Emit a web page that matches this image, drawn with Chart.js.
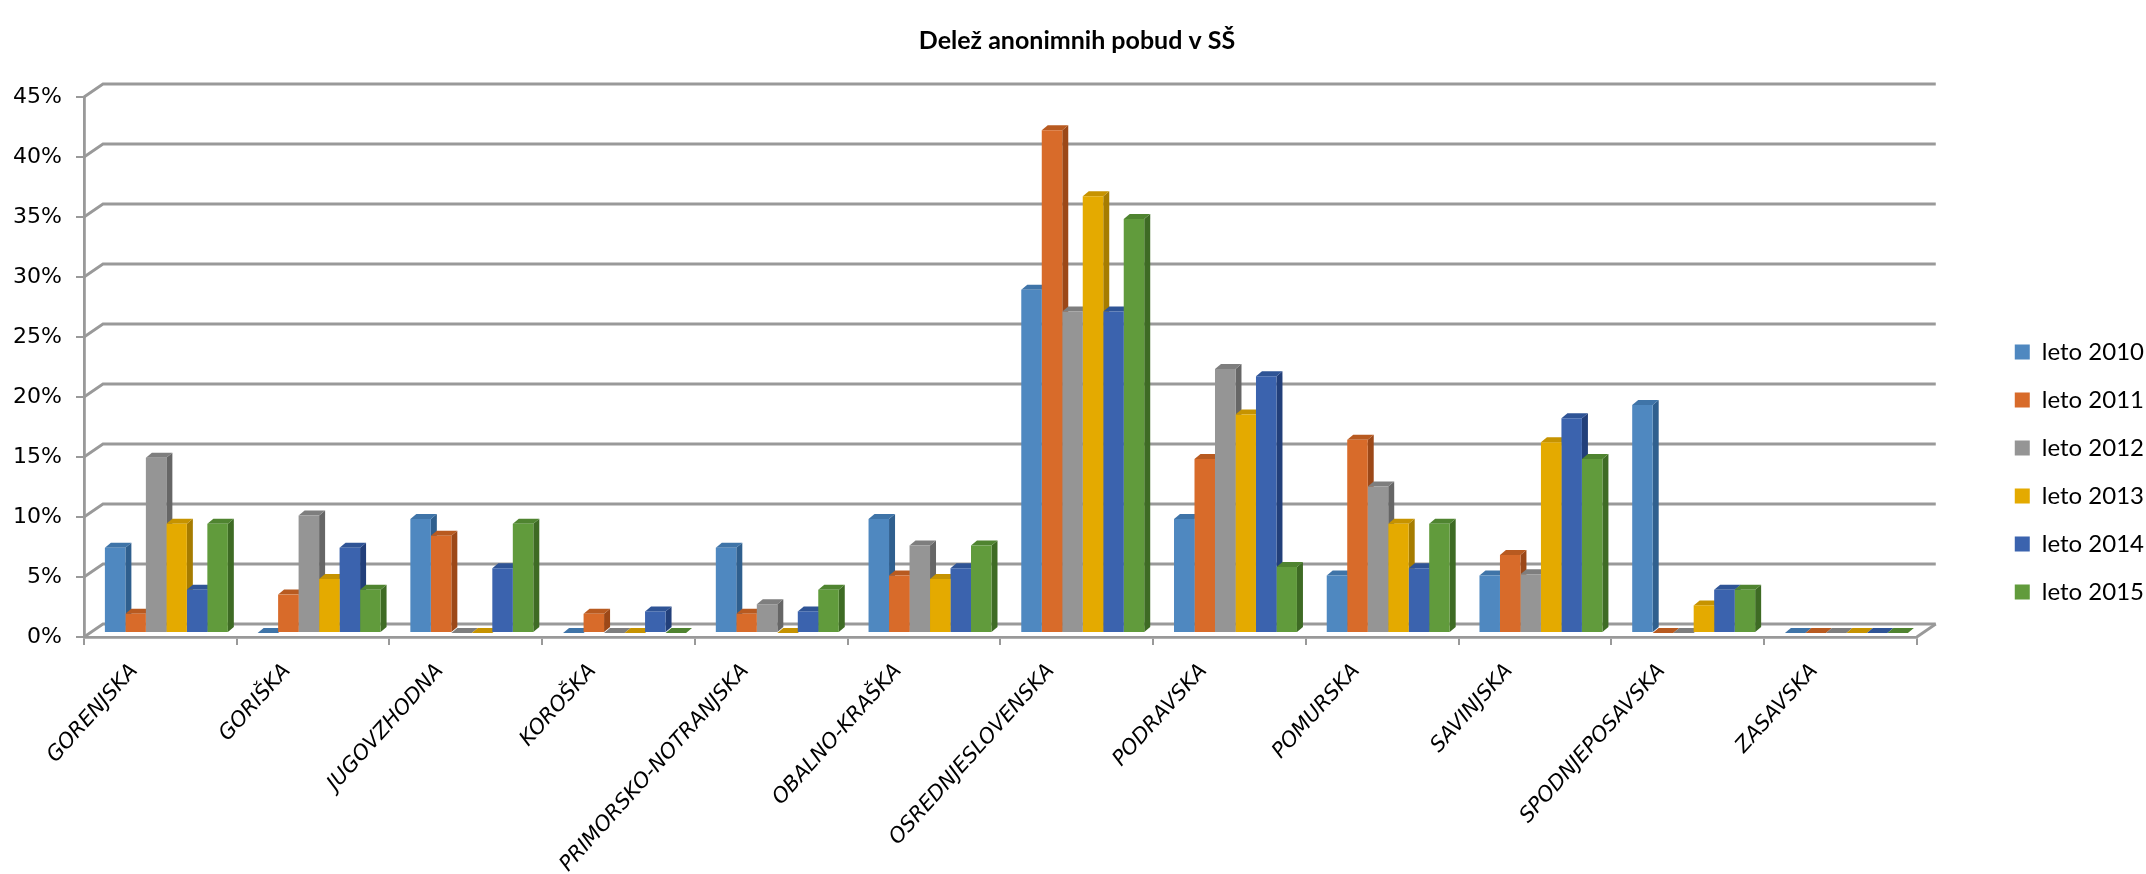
<!DOCTYPE html>
<html>
<head>
<meta charset="utf-8">
<title>Delež anonimnih pobud v SŠ</title>
<script src="https://cdn.jsdelivr.net/npm/chart.js@4.4.1/dist/chart.umd.min.js"></script>
<style>
  html, body { margin: 0; padding: 0; background: #ffffff; }
</style>
</head>
<body>
<canvas id="apChartPobude" width="2146" height="874"></canvas>
<script>
/* Delež anonimnih pobud v SŠ - 3D-style column chart */
(function () {
  'use strict';

  var regions = ['GORENJSKA', 'GORIŠKA', 'JUGOVZHODNA', 'KOROŠKA', 'PRIMORSKO-NOTRANJSKA', 'OBALNO-KRAŠKA',
    'OSREDNJESLOVENSKA', 'PODRAVSKA', 'POMURSKA', 'SAVINJSKA', 'SPODNJEPOSAVSKA', 'ZASAVSKA'];
  var years = ['leto 2010', 'leto 2011', 'leto 2012', 'leto 2013', 'leto 2014', 'leto 2015'];

  // shares in %
  var leto2010 = [7.1, 0, 9.5, 0, 7.1, 9.5, 28.6, 9.5, 4.8, 4.8, 19.0, 0];
  var leto2011 = [1.6, 3.2, 8.1, 1.6, 1.6, 4.8, 41.9, 14.5, 16.1, 6.5, 0, 0];
  var leto2012 = [14.6, 9.8, 0, 0, 2.4, 7.3, 26.8, 22.0, 12.2, 4.9, 0, 0];
  var leto2013 = [9.1, 4.5, 0, 0, 0, 4.5, 36.4, 18.2, 9.1, 15.9, 2.3, 0];
  var leto2014 = [3.6, 7.1, 5.4, 1.8, 1.8, 5.4, 26.8, 21.4, 5.4, 17.9, 3.6, 0];
  var leto2015 = [9.1, 3.6, 9.1, 0, 3.6, 7.3, 34.5, 5.5, 9.1, 14.5, 3.6, 0];
  var yTicks = [0, 5, 10, 15, 20, 25, 30, 35, 40, 45];

  var series = [leto2010, leto2011, leto2012, leto2013, leto2014, leto2015];
  var frontColors = ['#4f88c0', '#d86b2a', '#959595', '#e4aa00', '#3b63ae', '#619b3c'];
  var sideColors = ['#2f5f8e', '#9c4818', '#666666', '#a67c00', '#223f7a', '#3e6b24'];
  var topColors = ['#3f74a8', '#b85a20', '#7e7e7e', '#c69300', '#2f5496', '#4f8430'];

  var gridColor = '#999999';
  var WALL_X = 19, WALL_Y = 13;   // back wall offset
  var BAR_X = 6, BAR_Y = 4;       // bars sit a little behind the front plane
  var SIDE_X = 6, SIDE_Y = 5;     // bar depth

  function poly(ctx, pts, color) {
    ctx.beginPath();
    ctx.moveTo(pts[0][0], pts[0][1]);
    for (var i = 1; i < pts.length; i++) ctx.lineTo(pts[i][0], pts[i][1]);
    ctx.closePath();
    ctx.fillStyle = color;
    ctx.fill();
  }

  var box3d = {
    id: 'box3d',
    beforeDatasetsDraw: function (chart) {
      var ctx = chart.ctx, a = chart.chartArea, ys = chart.scales.y;
      ctx.save();
      ctx.strokeStyle = gridColor;
      ctx.lineWidth = 2.8;
      yTicks.forEach(function (v) {
        var py = ys.getPixelForValue(v);
        ctx.beginPath();
        ctx.moveTo(a.left, py);
        ctx.lineTo(a.left + WALL_X, py - WALL_Y);
        ctx.lineTo(a.right + WALL_X, py - WALL_Y);
        ctx.stroke();
      });
      ctx.beginPath();
      ctx.moveTo(a.right, a.bottom);
      ctx.lineTo(a.right + WALL_X, a.bottom - WALL_Y);
      ctx.stroke();
      ctx.restore();

      // restored in afterDatasetsDraw
      ctx.save();
      ctx.translate(BAR_X, -BAR_Y);
      var metas = chart.data.datasets.map(function (d, i) { return chart.getDatasetMeta(i); });
      metas.forEach(function (meta, i) {
        meta.data.forEach(function (bar) {
          var r = bar.x + bar.width / 2, t = Math.min(bar.y, bar.base), b = bar.base;
          poly(ctx, [[r, t], [r + SIDE_X, t - SIDE_Y], [r + SIDE_X, b - SIDE_Y], [r, b]], sideColors[i]);
        });
      });
      metas.forEach(function (meta, i) {
        meta.data.forEach(function (bar) {
          var l = bar.x - bar.width / 2, r = bar.x + bar.width / 2, t = Math.min(bar.y, bar.base);
          poly(ctx, [[l, t], [l + SIDE_X, t - SIDE_Y], [r + SIDE_X, t - SIDE_Y], [r, t]], topColors[i]);
        });
      });
    },
    afterDatasetsDraw: function (chart) {
      chart.ctx.restore();
    }
  };

  new Chart(document.getElementById('apChartPobude'), {
    type: 'bar',
    data: {
      labels: regions,
      datasets: series.map(function (vals, i) {
        return {
          label: years[i],
          data: vals,
          backgroundColor: frontColors[i],
          borderWidth: 0,
          categoryPercentage: 0.805,
          barPercentage: 1.0,
          clip: false
        };
      })
    },
    options: {
      responsive: false,
      animation: false,
      layout: { padding: { left: 0, right: -8, top: 0, bottom: 0 } },
      plugins: {
        title: {
          display: true,
          text: 'Delež anonimnih pobud v SŠ',
          color: '#000',
          font: { family: 'Lato', size: 25, weight: 'bold' },
          padding: { top: 26, bottom: 41 }
        },
        legend: {
          position: 'right',
          title: { display: true, text: ' ', font: { size: 10 }, padding: { top: 58, bottom: 0 } },
          labels: {
            boxWidth: 15, boxHeight: 15, padding: 24, color: '#000',
            font: { family: 'Lato', size: 24 },
            sort: function (a, b) { return a.datasetIndex - b.datasetIndex; }
          }
        },
        tooltip: { enabled: false }
      },
      scales: {
        x: {
          grid: { display: true, drawOnChartArea: false, drawTicks: true, tickLength: 8, offset: true, color: gridColor, lineWidth: 2 },
          border: { display: true, color: gridColor, width: 2.8 },
          ticks: {
            autoSkip: false, minRotation: 48, maxRotation: 48, padding: 14, labelOffset: -26,
            color: '#000', font: { family: 'DejaVu Sans', size: 21, style: 'italic' }
          },
          afterFit: function (s) { s.height = 237; }
        },
        y: {
          min: 0, max: 45,
          afterBuildTicks: function (s) { s.ticks = yTicks.map(function (v) { return { value: v }; }); },
          grid: { display: true, drawOnChartArea: false, drawTicks: true, tickLength: 8, color: gridColor, lineWidth: 2 },
          border: { display: true, color: gridColor, width: 2.8 },
          ticks: {
            padding: 14, color: '#000', font: { family: 'DejaVu Sans', size: 22 },
            callback: function (v) { return v + '%'; }
          },
          afterFit: function (s) { s.width = 84; }
        },
        y2: {
          type: 'linear', position: 'right', display: true,
          grid: { display: false }, border: { display: false }, ticks: { display: false },
          afterFit: function (s) { s.width = 74; }
        }
      }
    },
    plugins: [box3d]
  });
})();
</script>
</body>
</html>
